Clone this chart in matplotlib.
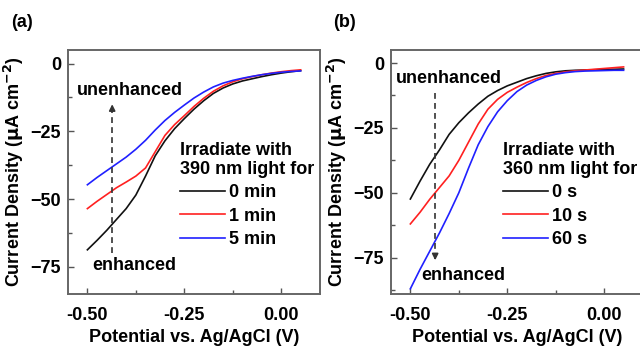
import matplotlib
matplotlib.use("Agg")
import matplotlib.pyplot as plt
from matplotlib.ticker import MultipleLocator

plt.rcParams["font.family"] = ["Liberation Sans", "DejaVu Sans"]
plt.rcParams["font.weight"] = "bold"
plt.rcParams["mathtext.default"] = "bf"

# ---------------------------------------------------------------------------
# data (potential in V, current density in uA cm^-2)
# ---------------------------------------------------------------------------
potential = [-0.50, -0.475, -0.45, -0.425, -0.40, -0.375, -0.35, -0.325, -0.30, -0.275,
             -0.25, -0.225, -0.20, -0.175, -0.15, -0.125, -0.10, -0.075, -0.05, -0.025,
             0.00, 0.025, 0.05]

# panel (a): 390 nm light
a_0min = [-68.7, -65.2, -61.5, -57.5, -53.5, -48.5, -41.5, -34.0, -28.5, -24.0,
          -20.3, -16.8, -13.7, -11.0, -9.0, -7.5, -6.4, -5.6, -4.8, -4.1,
          -3.5, -3.0, -2.6]
a_1min = [-53.5, -50.8, -48.3, -45.8, -43.7, -41.5, -38.5, -32.5, -26.5, -22.5,
          -19.2, -15.8, -12.8, -10.2, -8.2, -6.7, -5.6, -4.8, -4.1, -3.5,
          -3.0, -2.6, -2.3]
a_5min = [-44.7, -42.0, -39.5, -37.0, -34.5, -31.6, -28.3, -24.5, -21.0, -18.0,
          -15.3, -12.7, -10.5, -8.6, -7.2, -6.2, -5.4, -4.7, -4.1, -3.6,
          -3.2, -2.9, -2.7]
a_labels = ["0 min", "1 min", "5 min"]

# panel (b): 360 nm light
b_0s = [-52.4, -45.5, -39.0, -33.5, -27.5, -23.0, -19.2, -15.8, -12.8, -10.6,
        -8.8, -7.4, -6.0, -4.9, -4.0, -3.4, -3.0, -2.8, -2.7, -2.6,
        -2.5, -2.4, -2.3]
b_10s = [-62.0, -57.5, -52.5, -48.0, -43.5, -37.5, -30.5, -23.5, -17.8, -14.0,
         -11.3, -9.3, -7.5, -6.0, -4.8, -4.0, -3.4, -3.0, -2.7, -2.4,
         -2.1, -1.8, -1.5]
b_60s = [-87.0, -79.5, -72.5, -65.5, -58.0, -50.0, -40.5, -31.5, -24.5, -18.8,
         -14.5, -11.0, -8.5, -6.7, -5.3, -4.3, -3.7, -3.3, -3.1, -3.0,
         -2.9, -2.8, -2.8]
b_labels = ["0 s", "10 s", "60 s"]

colors = ["#111111", "#ff2020", "#2020ff"]
FS = 13


def style_axes(ax, ylim):
    ax.set_xlim(-0.55, 0.1)
    ax.set_ylim(*ylim)
    ax.xaxis.set_major_locator(MultipleLocator(0.25))
    ax.xaxis.set_minor_locator(MultipleLocator(0.125))
    ax.yaxis.set_major_locator(MultipleLocator(25))
    ax.yaxis.set_minor_locator(MultipleLocator(12.5))
    ax.xaxis.set_major_formatter(plt.FuncFormatter(lambda v, p: f"{v:.2f}"))
    ax.tick_params(which="both", direction="in", top=False, right=False,
                   color="#555555", labelsize=FS)
    ax.tick_params(which="major", length=4, width=1.0)
    ax.tick_params(which="minor", length=3, width=1.0)
    ax.tick_params(axis="x", which="major", pad=9)
    ax.tick_params(axis="y", which="major", pad=5)
    for lab in ax.get_xticklabels() + ax.get_yticklabels():
        lab.set_fontweight("bold")
    for s in ax.spines.values():
        s.set_color("#666666")
        s.set_linewidth(1.4)
    ax.set_xlabel("Potential vs. Ag/AgCl (V)", fontsize=FS, fontweight="bold", labelpad=4)
    ax.set_ylabel(r"Current Density ($\mathbf{\mu}$A cm$^{-2}$)", fontsize=FS,
                  fontweight="bold", labelpad=3)


def dashed_arrow(ax, x, y_from, y_to):
    ax.plot([x, x], [y_from, y_to], ls=(0, (3.5, 2.5)), lw=1.2, color="#333333")
    step = 2.5 if y_to > y_from else -2.5
    ax.annotate("", xy=(x, y_to), xytext=(x, y_to - step),
                arrowprops=dict(arrowstyle="-|>", color="#333333", lw=1.2,
                                mutation_scale=9, shrinkA=0, shrinkB=0))


def add_legend(ax, title, anchor):
    leg = ax.legend(title=title, loc="upper left", bbox_to_anchor=anchor,
                    frameon=False, fontsize=FS, title_fontsize=FS,
                    handlelength=2.5, handletextpad=0.2, labelspacing=0.35,
                    borderpad=0, borderaxespad=0, alignment="left")
    leg.get_title().set_fontweight("bold")
    return leg


fig = plt.figure(figsize=(6.4, 3.5), dpi=100)

# ---------------------------------------------------------------------------
# panel (a)
# ---------------------------------------------------------------------------
ax1 = fig.add_axes([0.10625, 0.16, 0.39375, 0.697])
for ys, c, lab in zip([a_0min, a_1min, a_5min], colors, a_labels):
    ax1.plot(potential, ys, color=c, lw=1.2, label=lab)
style_axes(ax1, (-85, 5))
dashed_arrow(ax1, -0.436, -70, -15)
ax1.text(-0.39, -10, "unenhanced", ha="center", va="center", fontsize=FS, fontweight="bold")
ax1.text(-0.378, -74.5, "enhanced", ha="center", va="center", fontsize=FS, fontweight="bold")
add_legend(ax1, "Irradiate with\n390 nm light for", (0.445, 0.625))
fig.text(0.018, 0.935, "(a)", fontsize=FS, fontweight="bold", va="center")

# ---------------------------------------------------------------------------
# panel (b)
# ---------------------------------------------------------------------------
ax2 = fig.add_axes([0.6109, 0.16, 0.39375, 0.697])
for ys, c, lab in zip([b_0s, b_10s, b_60s], colors, b_labels):
    ax2.plot(potential, ys, color=c, lw=1.2, label=lab)
style_axes(ax2, (-89, 5))
dashed_arrow(ax2, -0.436, -11.5, -76)
ax2.text(-0.40, -6, "unenhanced", ha="center", va="center", fontsize=FS, fontweight="bold")
ax2.text(-0.363, -82, "enhanced", ha="center", va="center", fontsize=FS, fontweight="bold")
add_legend(ax2, "Irradiate with\n360 nm light for", (0.445, 0.625))
fig.text(0.52, 0.935, "(b)", fontsize=FS, fontweight="bold", va="center")

fig.savefig("out.png", dpi=100)
